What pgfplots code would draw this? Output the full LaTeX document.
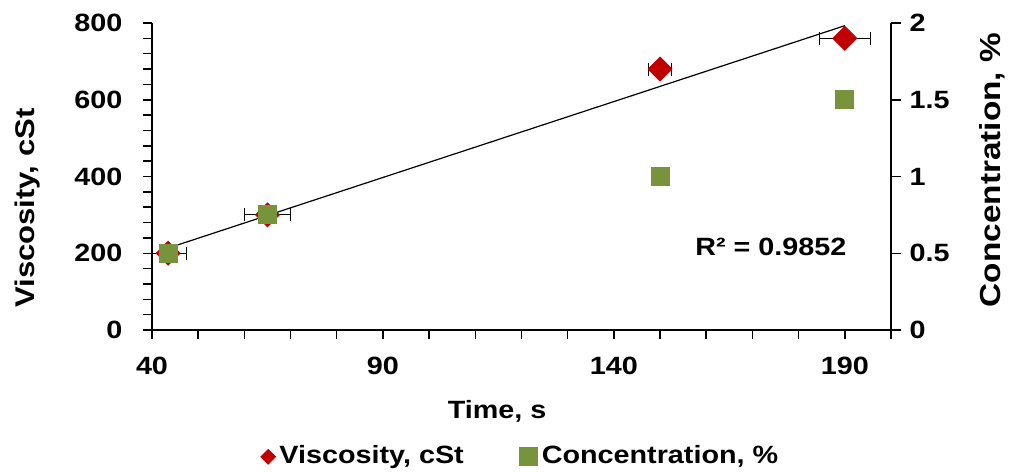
\documentclass[border=0pt]{standalone}
\usepackage{fontspec}
\setmainfont{Liberation Sans}[FakeStretch=1.15]
\usepackage{pgfplots}
\usepackage{pgfplotstable}
\pgfplotsset{compat=1.18}
\definecolor{vred}{HTML}{C00000}
\definecolor{cgreen}{HTML}{77933C}

\pgfplotstableread{
t v te c
43.5 200 4 0.5
65 300 5 0.75
150 680 2.5 1.0
190 760 5.5 1.5
}\data

\begin{document}
\fontsize{12.5}{15}\selectfont\bfseries
\begin{tikzpicture}
\begin{axis}[
  name=ax,
  scale only axis, width=369.5pt, height=153.5pt,
  xmin=40, xmax=200, ymin=0, ymax=800,
  axis x line*=bottom, axis y line*=left,
  axis line style={-, black, line width=0.75pt},
  tick align=outside,
  xtick={40,90,140,190},
  minor xtick={50,60,70,80,100,110,120,130,150,160,170,180,200},
  ytick={0,200,400,600,800},
  minor ytick={40,80,120,160,240,280,320,360,440,480,520,560,640,680,720,760},
  major tick length=4.5pt, minor tick length=4.5pt,
  every tick/.style={black, line width=0.75pt},
  minor tick style={black, line width=0.75pt},
  /pgf/number format/assume math mode=true,
  ticklabel style={font=\bfseries},
  xticklabel style={yshift=-4.5pt},
  yticklabel style={xshift=-6pt},
  xlabel={Time, s},
  xlabel style={at={(axis description cs:0.467,-0.265)}, anchor=center},
  ylabel={Viscosity, cSt},
  ylabel style={at={(axis description cs:-0.169,0.397)}, anchor=center, font=\fontsize{13.5}{16}\selectfont\bfseries},
  legend style={at={(0.5,-0.413)}, anchor=center, legend columns=2, draw=none, fill=none,
    font=\bfseries, /tikz/every even column/.append style={column sep=26pt}},
  legend cell align=left,
]
\coordinate (O) at (rel axis cs:0,0);
\addlegendimage{only marks, mark=square*, mark size=2.6pt, mark options={rotate=45, fill=vred, draw=vred}}
\addlegendentry{Viscosity, cSt}
\addlegendimage{only marks, mark=square*, mark size=4.5pt, mark options={fill=cgreen, draw=cgreen}}
\addlegendentry{Concentration, \%}
\addplot[only marks, mark=square*, mark size=4.24pt, mark options={rotate=45, fill=vred, draw=vred}, forget plot,
  error bars/.cd, x dir=both, x explicit, error mark=|,
  error bar style={black, line width=0.6pt},
  error mark options={black, mark size=3.25pt, line width=0.6pt}]
  table[x=t, y=v, x error=te] {\data};
\addplot[only marks, mark=square*, mark size=4.5pt, mark options={fill=cgreen, draw=cgreen}, forget plot]
  table[x=t, y expr=\thisrow{c}*400] {\data};
\addplot[black, line width=0.6pt, forget plot]
  table[x=t, y={create col/linear regression={y=v}}] {\data};
\node[anchor=center, font=\bfseries] at (axis cs:174,216) {R² = 0.9852};
\end{axis}
\begin{axis}[
  scale only axis, width=369.5pt, height=153.5pt,
  xmin=40, xmax=200, ymin=0, ymax=2,
  hide x axis,
  axis y line*=right,
  axis line style={-, black, line width=0.75pt},
  tick align=outside,
  ytick={0,0.5,1,1.5,2},
  major tick length=5pt,
  every tick/.style={black, line width=0.75pt},
  /pgf/number format/assume math mode=true,
  ticklabel style={font=\bfseries},
  ylabel={Concentration, \%},
  ylabel style={at={(axis description cs:1.137,0.521)}, anchor=center, font=\fontsize{14.5}{17}\selectfont\bfseries},
]
\end{axis}
\pgfresetboundingbox
\path (O) ++(-76pt,-71pt) rectangle ++(504.5pt,236pt);
\end{tikzpicture}
\end{document}
